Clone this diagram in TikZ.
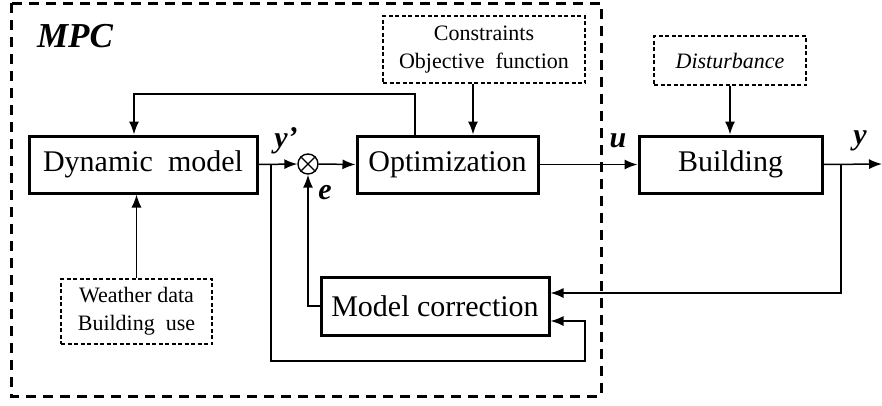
\documentclass[tikz,border=0pt]{standalone}
\usepackage{fontspec}
\setmainfont{Liberation Serif}
\usetikzlibrary{arrows.meta}
\newcommand{\bigfont}{\fontsize{30}{34}\selectfont}
\newcommand{\smallfont}{\fontsize{22}{28}\selectfont}
\newcommand{\sigfont}{\fontsize{30}{33}\selectfont\bfseries\itshape}
\tikzset{
  block/.style={draw, line width=3pt, minimum height=57pt, inner sep=0pt, font=\bigfont},
  dashbox/.style={draw, dash pattern=on 4pt off 2.5pt, line width=1.1pt, inner sep=0pt, align=center, font=\smallfont},
  link/.style={line width=1.5pt, ->},
  siglabel/.style={font=\sigfont, inner sep=0pt}
}
\begin{document}
\begin{tikzpicture}[x=1pt, y=-1pt, >={Latex[length=13pt,width=10pt]}]
	\useasboundingbox (0,0) rectangle (882,405);
	% MPC frame
	\draw[line width=3pt, dash pattern=on 10pt off 7pt] (11,3) rectangle (601,396);
	\node[font=\fontsize{35}{38}\selectfont\bfseries\itshape, inner sep=0pt] (mpc) at (75,36) {MPC};
	% blocks
	\node[block, minimum width=228pt] (dyn) at (143,164.5) {Dynamic\ \ model};
	\node[block, minimum width=181pt] (opt) at (447.5,164.5) {Optimization};
	\node[block, minimum width=183pt] (bld) at (730.5,164.5) {Building};
	\node[block, minimum width=228pt, minimum height=58pt] (corr) at (435,306) {Model correction};
	\node[draw, circle, line width=1.4pt, minimum size=20pt, inner sep=0pt] (sum) at (308,164) {};
	\draw[line width=1.2pt] (sum.45) -- (sum.225) (sum.135) -- (sum.315);
	% inputs
	\node[dashbox, minimum width=202pt, minimum height=67pt] (cons) at (484,49.5) {Constraints\\Objective\ \ function};
	\node[dashbox, minimum width=152pt, minimum height=49pt] (dist) at (730,60.5) {\itshape Disturbance};
	\node[dashbox, minimum width=151pt, minimum height=65pt] (wea) at (136.5,311.5) {Weather\ data\\Building\ \ use};
	% signal labels
	\node[siglabel] (lyp) at (286,141) {y'};
	\node[siglabel] (lu) at (618,141) {u};
	\node[siglabel] (ly) at (860,141) {y};
	\node[siglabel] (le) at (325,193) {e};
	% helper points
	\coordinate (br1) at (271,164);
	\coordinate (lp) at (585,361);
	\coordinate (fb) at (134,94);
	\coordinate (br2) at (841,164);
	\coordinate (out) at (882,164);
	% connectors
	\draw[link] (dyn.east) -- (sum.west);
	\draw[link] (sum.east) -- (opt.west);
	\draw[link] (opt.east) -- (bld.west);
	\draw[link] (bld.east) -- (out);
	\draw[link] ([xshift=-32.5pt]opt.north) |- (fb) -- (fb |- dyn.north);
	\draw[link] ([xshift=-11pt]cons.south) -- ([xshift=-11pt]cons.south |- opt.north);
	\draw[link] (dist.south) -- (dist.south |- bld.north);
	\draw[link] (wea.north) -- (wea.north |- dyn.south);
	\draw[link] (br1) |- (lp) |- ([yshift=-15pt]corr.east);
	\draw[link] (br2) |- ([yshift=13pt]corr.east);
	\draw[link] (corr.west) -| (sum.south);
\end{tikzpicture}
\end{document}
